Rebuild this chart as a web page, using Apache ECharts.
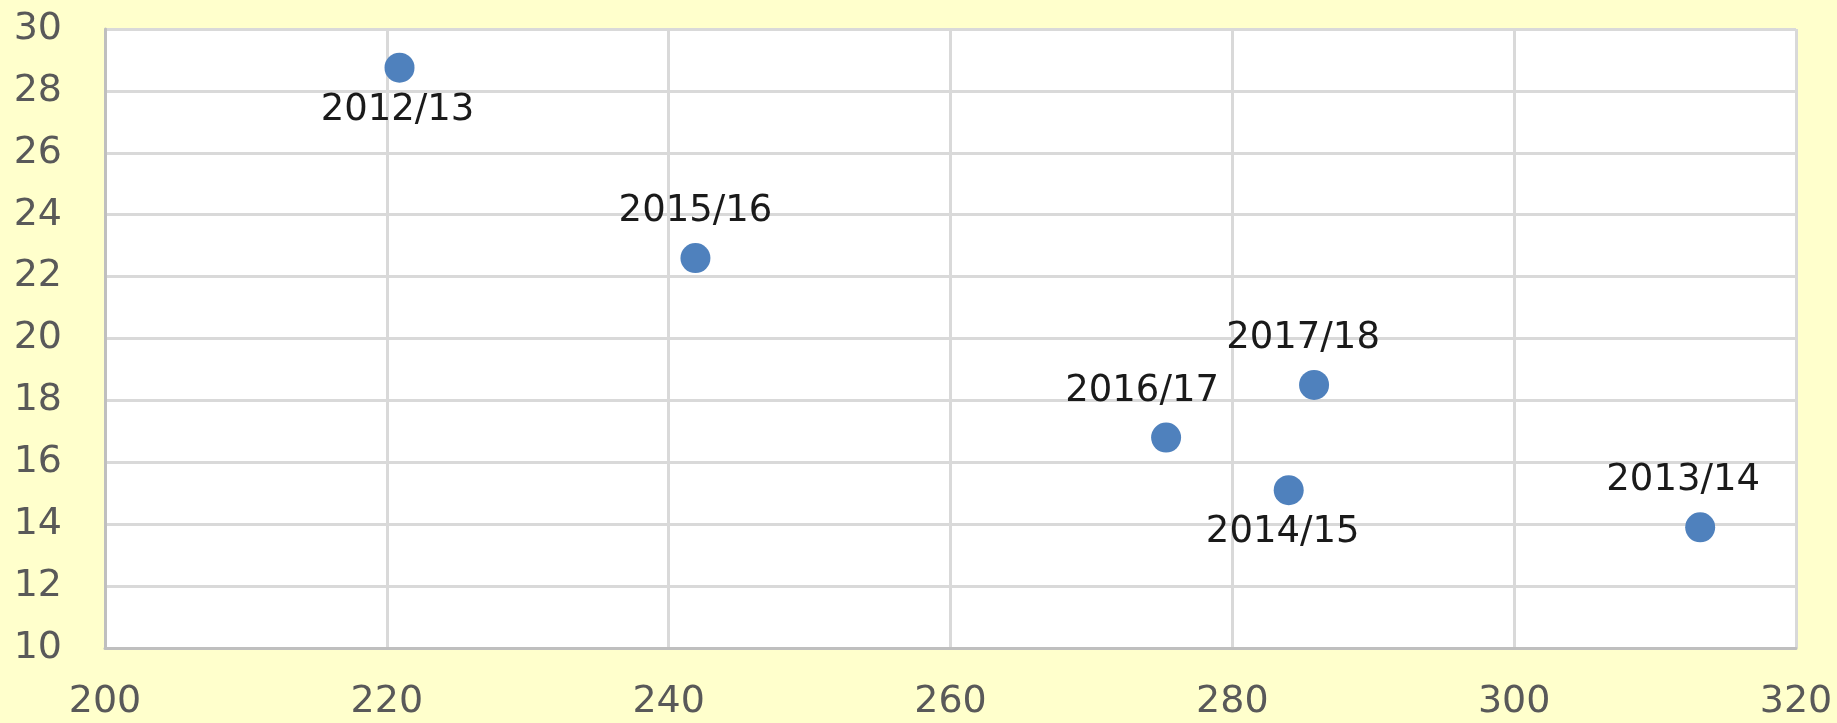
<!DOCTYPE html>
<html lang="en">
<head>
    <meta charset="UTF-8">
    <title>散点图</title>
    <script src="https://cdn.jsdelivr.net/npm/echarts@6/dist/echarts.min.js"></script>
    <style>
        html, body { margin: 0; padding: 0; background: #ffffcc; }
    </style>
</head>
<body>
<div id="box" style="width: 1837px;height: 723px;"></div>
<script>
    // values
    var seasons = ['2012/13', '2013/14', '2014/15', '2015/16', '2016/17', '2017/18'];
    var xValues = [220.9, 313.2, 284.0, 241.9, 275.3, 285.8];
    var yValues = [28.75, 13.9, 15.1, 22.6, 16.8, 18.5];

    // where each label sits round its point
    var labelPlace = {
        '2012/13': {position: 'bottom', offset: [-2, 0]},
        '2013/14': {position: 'top', offset: [-17, -4]},
        '2014/15': {position: 'bottom', offset: [-6, 0]},
        '2015/16': {position: 'top', offset: [0, -4]},
        '2016/17': {position: 'top', offset: [-24, -4]},
        '2017/18': {position: 'top', offset: [-11, -4]}
    };

    var points = [];
    for (var i = 0; i < seasons.length; i++) {
        var p = labelPlace[seasons[i]];
        points.push({
            name: seasons[i],
            value: [xValues[i], yValues[i]],
            label: {position: p.position, offset: p.offset}
        });
    }

    var myChart = echarts.init(document.getElementById('box'));
    var option = {
        backgroundColor: '#ffffcc',
        grid: {
            left: 105, right: 41, top: 29, bottom: 75,
            show: true, backgroundColor: '#ffffff', borderWidth: 0
        },
        xAxis: {
            type: 'value',
            min: 200, max: 320, interval: 20,
            axisLine: {show: true, onZero: false, lineStyle: {color: '#bfbfbf', width: 3}},
            axisTick: {show: false},
            splitLine: {show: true, lineStyle: {color: '#d9d9d9', width: 3}},
            axisLabel: {
                margin: 35, fontSize: 38, color: '#595959',
                fontFamily: 'DejaVu Sans'
            }
        },
        yAxis: {
            type: 'value',
            min: 10, max: 30, interval: 2,
            axisLine: {show: true, onZero: false, lineStyle: {color: '#bfbfbf', width: 3}},
            axisTick: {show: false},
            splitLine: {show: true, lineStyle: {color: '#d9d9d9', width: 3}},
            axisLabel: {
                margin: 43, fontSize: 38, color: '#595959',
                fontFamily: 'DejaVu Sans'
            }
        },
        series: [{
            type: 'scatter',
            symbolSize: 30,
            itemStyle: {color: '#4f81bd', opacity: 1},
            label: {
                show: true,
                formatter: '{b}',
                fontSize: 37,
                color: '#1a1a1a',
                fontFamily: 'DejaVu Sans',
                distance: 9
            },
            data: points
        }]
    };
    myChart.setOption(option);
</script>
</body>
</html>
